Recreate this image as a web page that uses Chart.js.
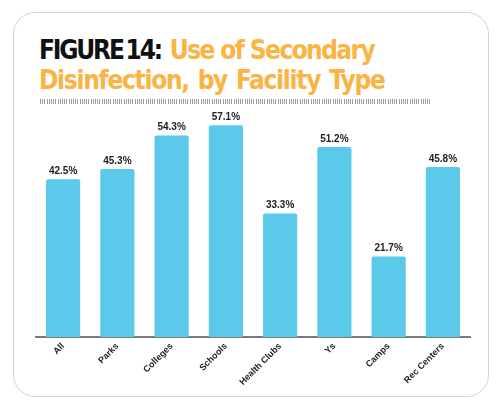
<!DOCTYPE html>
<html>
<head>
<meta charset="utf-8">
<script src="https://cdn.jsdelivr.net/npm/chart.js@4"></script>
<style>
  html, body { margin: 0; padding: 0; background: #fff; }
  body { width: 500px; height: 411px; position: relative; overflow: hidden; }
  .card {
    position: absolute; left: 13px; top: 12px; width: 476px; height: 385px;
    border: 1px solid #d4d4d4; border-radius: 22px; box-sizing: border-box;
  }
  .title {
    position: absolute; left: 39px; top: 35px; margin: 0;
    font-family: "DejaVu Sans Condensed", "DejaVu Sans", sans-serif;
    font-size: 26px; line-height: 30px; font-weight: bold; color: #fbb343;
    letter-spacing: -1.3px; word-spacing: 2px;
  }
  .title b { color: #111; letter-spacing: -2.2px; word-spacing: -3px; }
  .title .l1 { letter-spacing: -1.6px; word-spacing: 0; }
  .rule {
    position: absolute; left: 40px; top: 99px; width: 392px; height: 5px;
    background: repeating-linear-gradient(90deg, #9a9a9a 0 1px, #fff 1px 2.2px);
  }
  #wrap { position: absolute; left: 0; top: 0; width: 500px; height: 411px; }
</style>
</head>
<body>
<div class="card"></div>
<h1 class="title"><b>FIGURE 14:</b> <span class="l1">Use of Secondary</span><br>Disinfection, by Facility Type</h1>
<div class="rule"></div>
<div id="wrap"><canvas id="chart" width="500" height="411"></canvas></div>
<script>
const categories = ['All', 'Parks', 'Colleges', 'Schools', 'Health Clubs', 'Ys', 'Camps', 'Rec Centers'];
const values = [42.5, 45.3, 54.3, 57.1, 33.3, 51.2, 21.7, 45.8];

const valueLabels = {
  id: 'valueLabels',
  afterDatasetsDraw(chart) {
    const ctx = chart.ctx;
    const meta = chart.getDatasetMeta(0);
    ctx.save();
    ctx.font = 'bold 10px "Liberation Sans", Arial, sans-serif';
    ctx.fillStyle = '#222';
    ctx.textAlign = 'center';
    ctx.textBaseline = 'bottom';
    meta.data.forEach((bar, i) => {
      ctx.fillText(values[i].toFixed(1) + '%', bar.x, bar.y - 3);
    });
    ctx.restore();
  }
};

new Chart(document.getElementById('chart').getContext('2d'), {
  type: 'bar',
  data: {
    labels: categories,
    datasets: [{
      data: values,
      backgroundColor: '#5bc9ea',
      borderRadius: { topLeft: 2, topRight: 2 },
      borderSkipped: 'bottom',
      categoryPercentage: 1,
      barPercentage: 0.63
    }]
  },
  options: {
    responsive: false,
    animation: false,
    layout: { padding: { left: 36, right: 30, top: 110, bottom: 0 } },
    plugins: { legend: { display: false }, tooltip: { enabled: false } },
    scales: {
      x: {
        grid: { display: false, drawTicks: false },
        border: { display: true, color: '#7a7a7a', width: 2 },
        ticks: {
          color: '#222',
          font: { family: '"Liberation Sans", Arial, sans-serif', size: 9, weight: 'bold' },
          minRotation: 45, maxRotation: 45, padding: 4, autoSkip: false
        },
        afterFit(scale) { scale.height = 74; }
      },
      y: { display: false, min: 0, max: 61.2 }
    }
  },
  plugins: [valueLabels]
});
</script>
</body>
</html>
